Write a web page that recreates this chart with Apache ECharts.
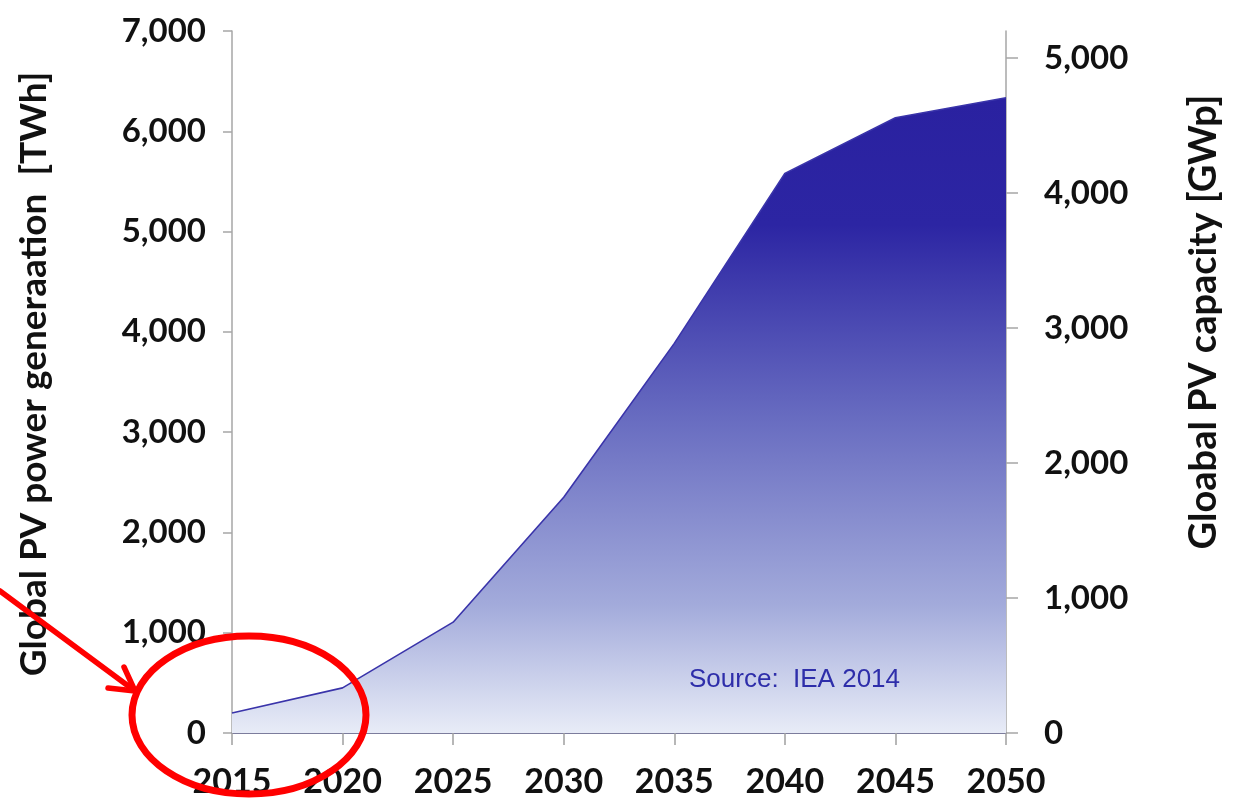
<!DOCTYPE html>
<html>
<head>
<meta charset="utf-8">
<script src="https://cdn.jsdelivr.net/npm/echarts@6/dist/echarts.min.js"></script>
<style>
html,body{margin:0;padding:0;background:#fff;}
#chart{width:1235px;height:801px;}
</style>
</head>
<body>
<div id="chart"></div>
<script>
const years = ['2015','2020','2025','2030','2035','2040','2045','2050'];
const generationTWh = [200, 450, 1105, 2350, 3885, 5580, 6135, 6335];
const leftTicks = {min: 0, max: 7000, interval: 1000};
const rightTicks = {min: 0, max: 5200, interval: 1000};
const leftName = 'Global PV power generaation  [TWh]';
const rightName = 'Gloabal PV capacity [GWp]';
const sourceText = 'Source:  IEA 2014';

const fmt = v => Number(v).toLocaleString('en-US');
const labelFont = 'Lato, "Open Sans", sans-serif';

const chart = echarts.init(document.getElementById('chart'));
chart.setOption({
  animation: false,
  backgroundColor: '#ffffff',
  grid: {left: 232, right: 229, top: 31, bottom: 68, containLabel: false},
  xAxis: {
    type: 'category',
    data: years,
    boundaryGap: false,
    axisLine: {show: true, lineStyle: {color: '#7c7c9c', width: 2}},
    axisTick: {show: true, length: 12, lineStyle: {color: '#a0a0a0', width: 1.5}},
    axisLabel: {interval: 0, margin: 32, color: '#111', fontFamily: labelFont, fontWeight: 'bold', fontSize: 34},
    splitLine: {show: false}
  },
  yAxis: [
    {
      type: 'value',
      position: 'left',
      min: leftTicks.min, max: leftTicks.max, interval: leftTicks.interval,
      axisLine: {show: true, lineStyle: {color: '#a6a6a6', width: 1.5}},
      axisTick: {show: true, length: 9, lineStyle: {color: '#a6a6a6', width: 1.5}},
      axisLabel: {margin: 26, color: '#111', fontFamily: labelFont, fontWeight: 'bold', fontSize: 33, formatter: fmt},
      splitLine: {show: false}
    },
    {
      type: 'value',
      position: 'right',
      min: rightTicks.min, max: rightTicks.max, interval: rightTicks.interval,
      axisLine: {show: true, lineStyle: {color: '#a6a6a6', width: 1.5}},
      axisTick: {show: true, length: 12, lineStyle: {color: '#a6a6a6', width: 1.5}},
      axisLabel: {margin: 38, showMaxLabel: false, color: '#111', fontFamily: labelFont, fontWeight: 'bold', fontSize: 33,
        formatter: v => (v % 1000 === 0 ? fmt(v) : '')},
      splitLine: {show: false}
    }
  ],
  series: [{
    type: 'line',
    yAxisIndex: 0,
    data: generationTWh,
    symbol: 'none',
    lineStyle: {color: '#3a34aa', width: 1.6},
    areaStyle: {
      opacity: 1,
      color: new echarts.graphic.LinearGradient(0, 0, 0, 1, [
        {offset: 0, color: '#2a21a0'},
        {offset: 0.2, color: '#2c25a3'},
        {offset: 0.5, color: '#676bc0'},
        {offset: 0.8, color: '#a3abdb'},
        {offset: 1, color: '#e8ecf7'}
      ])
    }
  }],
  graphic: [
    {
      type: 'text', left: 689, top: 667, z: 10,
      style: {text: sourceText, fill: '#2e2eaa', font: '26px "Liberation Sans", Arial, sans-serif'}
    },
    {
      type: 'text', x: 34, y: 374, rotation: Math.PI / 2, z: 10,
      style: {text: leftName, fill: '#111', font: 'bold 37px Lato, "Open Sans", sans-serif', align: 'center', verticalAlign: 'middle'}
    },
    {
      type: 'text', x: 1204, y: 322, rotation: Math.PI / 2, z: 10,
      style: {text: rightName, fill: '#111', font: 'bold 38px Lato, "Open Sans", sans-serif', align: 'center', verticalAlign: 'middle'}
    },
    {
      type: 'ellipse', z: 20,
      shape: {cx: 249, cy: 715, rx: 117, ry: 79},
      style: {fill: 'none', stroke: '#ff0000', lineWidth: 7}
    },
    {
      type: 'polyline', z: 20,
      shape: {points: [[0, 591], [135, 691]]},
      style: {stroke: '#ff0000', lineWidth: 5.5, lineCap: 'round'}
    },
    {
      type: 'polyline', z: 20,
      shape: {points: [[124, 667], [135, 691], [108, 688]]},
      style: {stroke: '#ff0000', lineWidth: 5.5, lineCap: 'round', lineJoin: 'round', fill: 'none'}
    }
  ]
});
</script>
</body>
</html>
